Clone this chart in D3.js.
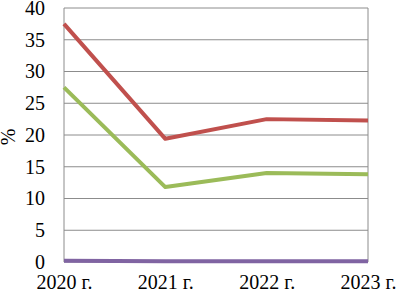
<!DOCTYPE html>
<html>
<head>
<meta charset="utf-8">
<script src="https://cdn.jsdelivr.net/npm/d3@7"></script>
<style>
  body { margin: 0; background: #fff; }
</style>
</head>
<body>
<div id="chart"></div>
<script>
const years = ["2020 г.", "2021 г.", "2022 г.", "2023 г."];
const redSeries = [37.5, 19.4, 22.5, 22.3];
const greenSeries = [27.5, 11.8, 14.0, 13.8];
const purpleSeries = [0.2, 0.1, 0.1, 0.1];
const yTicks = [0, 5, 10, 15, 20, 25, 30, 35, 40];

const width = 396, height = 296;
const margin = { top: 8, right: 28, bottom: 34, left: 64 };
const serif = "Liberation Serif";

const svg = d3
  .select("#chart")
  .append("svg")
  .attr("width", width)
  .attr("height", height);

const x = d3.scalePoint().domain(years).range([margin.left, width - margin.right]);
const y = d3.scaleLinear().domain([0, 40]).range([height - margin.bottom, margin.top]);

// gridlines
svg
  .append("g")
  .selectAll("line")
  .data(yTicks)
  .join("line")
  .attr("x1", margin.left)
  .attr("x2", width - margin.right)
  .attr("y1", d => y(d))
  .attr("y2", d => y(d))
  .attr("stroke", "#8c8c8c")
  .attr("stroke-width", 1);

// plot frame (left + right)
svg
  .append("line")
  .attr("x1", margin.left).attr("x2", margin.left)
  .attr("y1", y(40)).attr("y2", y(0))
  .attr("stroke", "#8c8c8c");
svg
  .append("line")
  .attr("x1", width - margin.right).attr("x2", width - margin.right)
  .attr("y1", y(40)).attr("y2", y(0))
  .attr("stroke", "#8c8c8c");

// y axis labels
const yAxis = d3.axisLeft(y).tickValues(yTicks).tickSize(0).tickPadding(19);
svg
  .append("g")
  .attr("transform", "translate(" + margin.left + ",0)")
  .call(yAxis)
  .attr("font-family", serif)
  .attr("font-size", 20)
  .call(g => g.select(".domain").remove());

// x axis labels
const xAxis = d3.axisBottom(x).tickSize(0).tickPadding(13);
svg
  .append("g")
  .attr("transform", "translate(0," + y(0) + ")")
  .call(xAxis)
  .attr("font-family", serif)
  .attr("font-size", 20)
  .call(g => g.select(".domain").remove());

// y label
svg
  .append("text")
  .attr("transform", "translate(15," + 137 + ") rotate(-90)")
  .attr("text-anchor", "middle")
  .attr("font-family", serif)
  .attr("font-size", 20)
  .text("%");

const line = d3
  .line()
  .x((d, i) => x(years[i]))
  .y(d => y(d));

const series = [
  { values: purpleSeries, color: "#8064a2" },
  { values: greenSeries, color: "#9bbb59" },
  { values: redSeries, color: "#c0504d" }
];

svg
  .append("g")
  .selectAll("path")
  .data(series)
  .join("path")
  .attr("d", d => line(d.values))
  .attr("fill", "none")
  .attr("stroke", d => d.color)
  .attr("stroke-width", 4)
  .attr("stroke-linejoin", "round");
</script>
</body>
</html>
